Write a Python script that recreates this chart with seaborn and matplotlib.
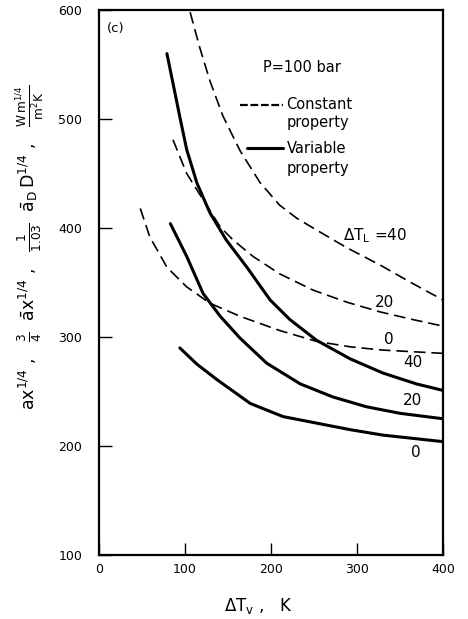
import matplotlib
matplotlib.use("Agg")
import matplotlib.pyplot as plt
import seaborn as sns
import pandas as pd

# Heat transfer coefficient vs vapour superheat, P = 100 bar
# Constant-property curves (dashed), keyed by liquid subcooling dT_L
const_40_x = [106, 117, 129, 144, 164, 187, 210, 230, 249, 288, 327, 365, 400]
const_40_y = [598, 566, 535, 503, 471, 442, 421, 409, 400, 382, 366, 349, 334]
const_20_x = [86, 102, 121, 141, 156, 179, 210, 249, 288, 327, 365, 400]
const_20_y = [481, 450, 426, 401, 389, 374, 358, 343, 332, 323, 316, 310]
const_0_x = [48, 59, 79, 102, 129, 164, 210, 253, 292, 330, 400]
const_0_y = [418, 392, 364, 346, 331, 319, 306, 296, 291, 288, 285]

# Variable-property curves (solid)
var_40_x = [79, 86, 94, 102, 114, 129, 148, 172, 199, 222, 253, 292, 330, 369, 400]
var_40_y = [560, 533, 502, 472, 441, 414, 389, 364, 334, 316, 297, 280, 267, 257, 251]
var_20_x = [83, 102, 121, 141, 164, 195, 234, 272, 311, 350, 400]
var_20_y = [404, 374, 340, 319, 299, 276, 257, 245, 236, 230, 225]
var_0_x = [94, 114, 137, 176, 214, 253, 292, 330, 400]
var_0_y = [290, 275, 261, 239, 227, 221, 215, 210, 204]

x_ticks = [0, 100, 200, 300, 400]
y_ticks = [100, 200, 300, 400, 500, 600]

curves = [
    ("Constant", 40, const_40_x, const_40_y),
    ("Constant", 20, const_20_x, const_20_y),
    ("Constant", 0, const_0_x, const_0_y),
    ("Variable", 40, var_40_x, var_40_y),
    ("Variable", 20, var_20_x, var_20_y),
    ("Variable", 0, var_0_x, var_0_y),
]
df = pd.concat(
    [pd.DataFrame({"dTv": xs, "h": ys, "dTL": dtl, "model": model})
     for model, dtl, xs, ys in curves],
    ignore_index=True,
)

sns.set_style("ticks")
plt.rcParams["font.family"] = ["DejaVu Sans"]
plt.rcParams["mathtext.fontset"] = "dejavusans"
plt.rcParams["text.color"] = "black"
plt.rcParams["axes.labelcolor"] = "black"

fig = plt.figure(figsize=(4.68, 6.19), dpi=100)
ax = fig.add_axes([0.2115, 0.1034, 0.735, 0.8804])

styles = {
    "Constant": dict(lw=1.2, linestyle=(0, (7, 3.5))),
    "Variable": dict(lw=2.2, linestyle="-"),
}
for (model, dtl), sub in df.groupby(["model", "dTL"]):
    sns.lineplot(data=sub, x="dTv", y="h", ax=ax, color="black",
                 legend=False, estimator=None, sort=True, **styles[model])

ax.set_xlim(0, 400)
ax.set_ylim(100, 600)
ax.set_xticks(x_ticks)
ax.set_yticks(y_ticks)
ax.tick_params(direction="in", length=9, width=1.0, labelsize=9, colors="black",
               top=False, right=False)
ax.tick_params(axis="x", pad=6)
ax.tick_params(axis="y", pad=12)
for s in ax.spines.values():
    s.set_visible(True)
    s.set_linewidth(1.6)
    s.set_color("black")

ax.set_xlabel(r"$\Delta\mathrm{T_v}$ ,   K", fontsize=12)
ax.xaxis.set_label_coords(0.462, -0.075)
ax.set_ylabel(r"$\mathrm{a x^{1/4}}$ ,   $\frac{3}{4}$  $\mathrm{\bar{a} x^{1/4}}$ ,   "
              r"$\frac{1}{1.03}$  $\mathrm{\bar{a}_D\,D^{1/4}}$ ,   "
              r"$\frac{\mathrm{W\,m^{1/4}}}{\mathrm{m^2K}}$",
              fontsize=12.5)
ax.yaxis.set_label_coords(-0.151, 0.565)

ax.text(9, 583, "(c)", fontsize=9.5, va="center")
ax.text(191, 547, "P=100 bar", fontsize=10.5, va="center")
# key: labelled line samples
ax.plot([164, 214], [513, 513], color="black", lw=1.6, linestyle=(0, (3.5, 1.2)))
ax.text(218, 513, "Constant", fontsize=10.5, va="center")
ax.text(218, 497, "property", fontsize=10.5, va="center")
ax.plot([172, 214], [473, 473], color="black", lw=2.2)
ax.text(218, 473, "Variable", fontsize=10.5, va="center")
ax.text(218, 455, "property", fontsize=10.5, va="center")

# curve labels
ax.text(284, 393, r"$\mathrm{\Delta T_L}$ =40", fontsize=11, va="center")
ax.text(332, 332, "20", fontsize=11, va="center", ha="center")
ax.text(337, 298, "0", fontsize=11, va="center", ha="center")
ax.text(365, 277, "40", fontsize=11, va="center", ha="center")
ax.text(365, 242, "20", fontsize=11, va="center", ha="center")
ax.text(369, 194, "0", fontsize=11, va="center", ha="center")

fig.savefig("out.png", dpi=100)
